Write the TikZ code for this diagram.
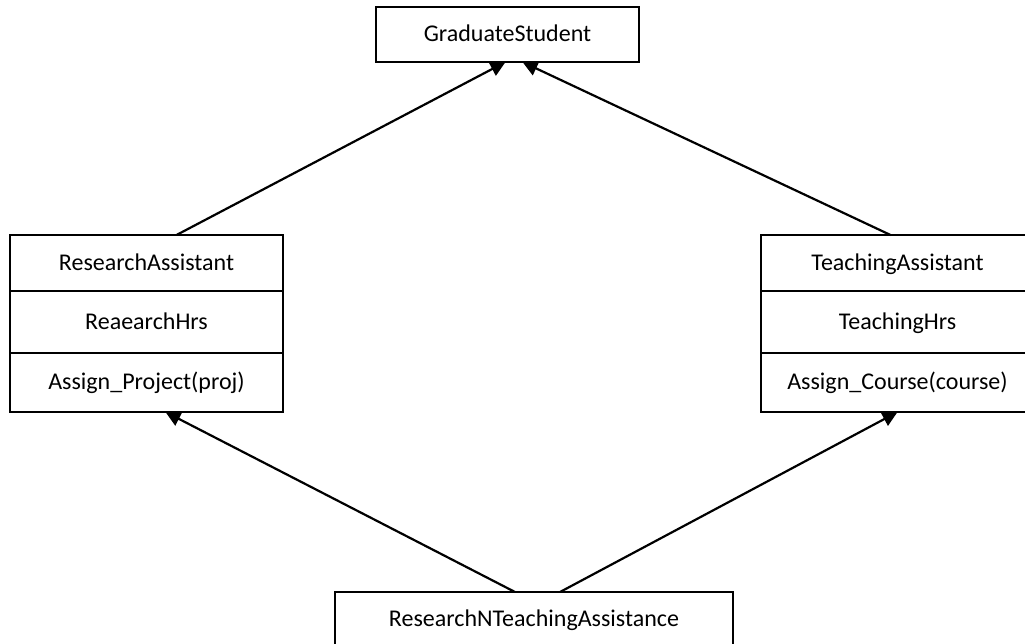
\documentclass[tikz,border=0pt]{standalone}
\usepackage{fontspec}
\usepackage{tikz}
\usetikzlibrary{arrows.meta,calc,positioning}
\newfontfamily\umlfont{Carlito}
\newcommand{\umltext}{\umlfont\fontsize{24}{28}\selectfont}

\begin{document}
\begin{tikzpicture}[x=1pt,y=-1pt,>={Triangle[length=15pt,width=15pt]},
  cls/.style={draw,line width=1.4pt,inner sep=0pt,outer sep=0pt,
    text height=17pt,text depth=3pt,font=\umltext},
  umlbox/.style={cls,minimum width=273pt},
  link/.style={->,line width=2.2pt}]
  \clip (0,0) rectangle (1025,643);
  % top class
  \node[cls,minimum width=263pt,minimum height=55pt] (gs) at (507.5,34.5) {GraduateStudent};
  % left class
  \node[umlbox,minimum height=56pt] (ra1) at (146.5,263) {ResearchAssistant};
  \node[umlbox,minimum height=62pt,below=0pt of ra1] (ra2) {ReaearchHrs};
  \node[umlbox,minimum height=59pt,below=0pt of ra2] (ra3) {Assign\_Project(proj)};
  % right class
  \node[umlbox,minimum height=56pt] (ta1) at (897.5,263) {TeachingAssistant};
  \node[umlbox,minimum height=62pt,below=0pt of ta1] (ta2) {TeachingHrs};
  \node[umlbox,minimum height=59pt,below=0pt of ta2] (ta3) {Assign\_Course(course)};
  % bottom class
  \node[cls,minimum width=398pt,minimum height=55pt] (rnt) at (534,619.5) {ResearchNTeachingAssistance};
  % inheritance
  \draw[link] ([xshift=30pt]ra1.north) -- ([xshift=-2pt]gs.south);
  \draw[link] ([xshift=-7pt]ta1.north) -- ([xshift=15pt]gs.south);
  \draw[link] ([xshift=-19pt]rnt.north) -- ([xshift=19pt]ra3.south);
  \draw[link] ([xshift=26pt]rnt.north) -- ([xshift=0pt]ta3.south);
\end{tikzpicture}
\end{document}
